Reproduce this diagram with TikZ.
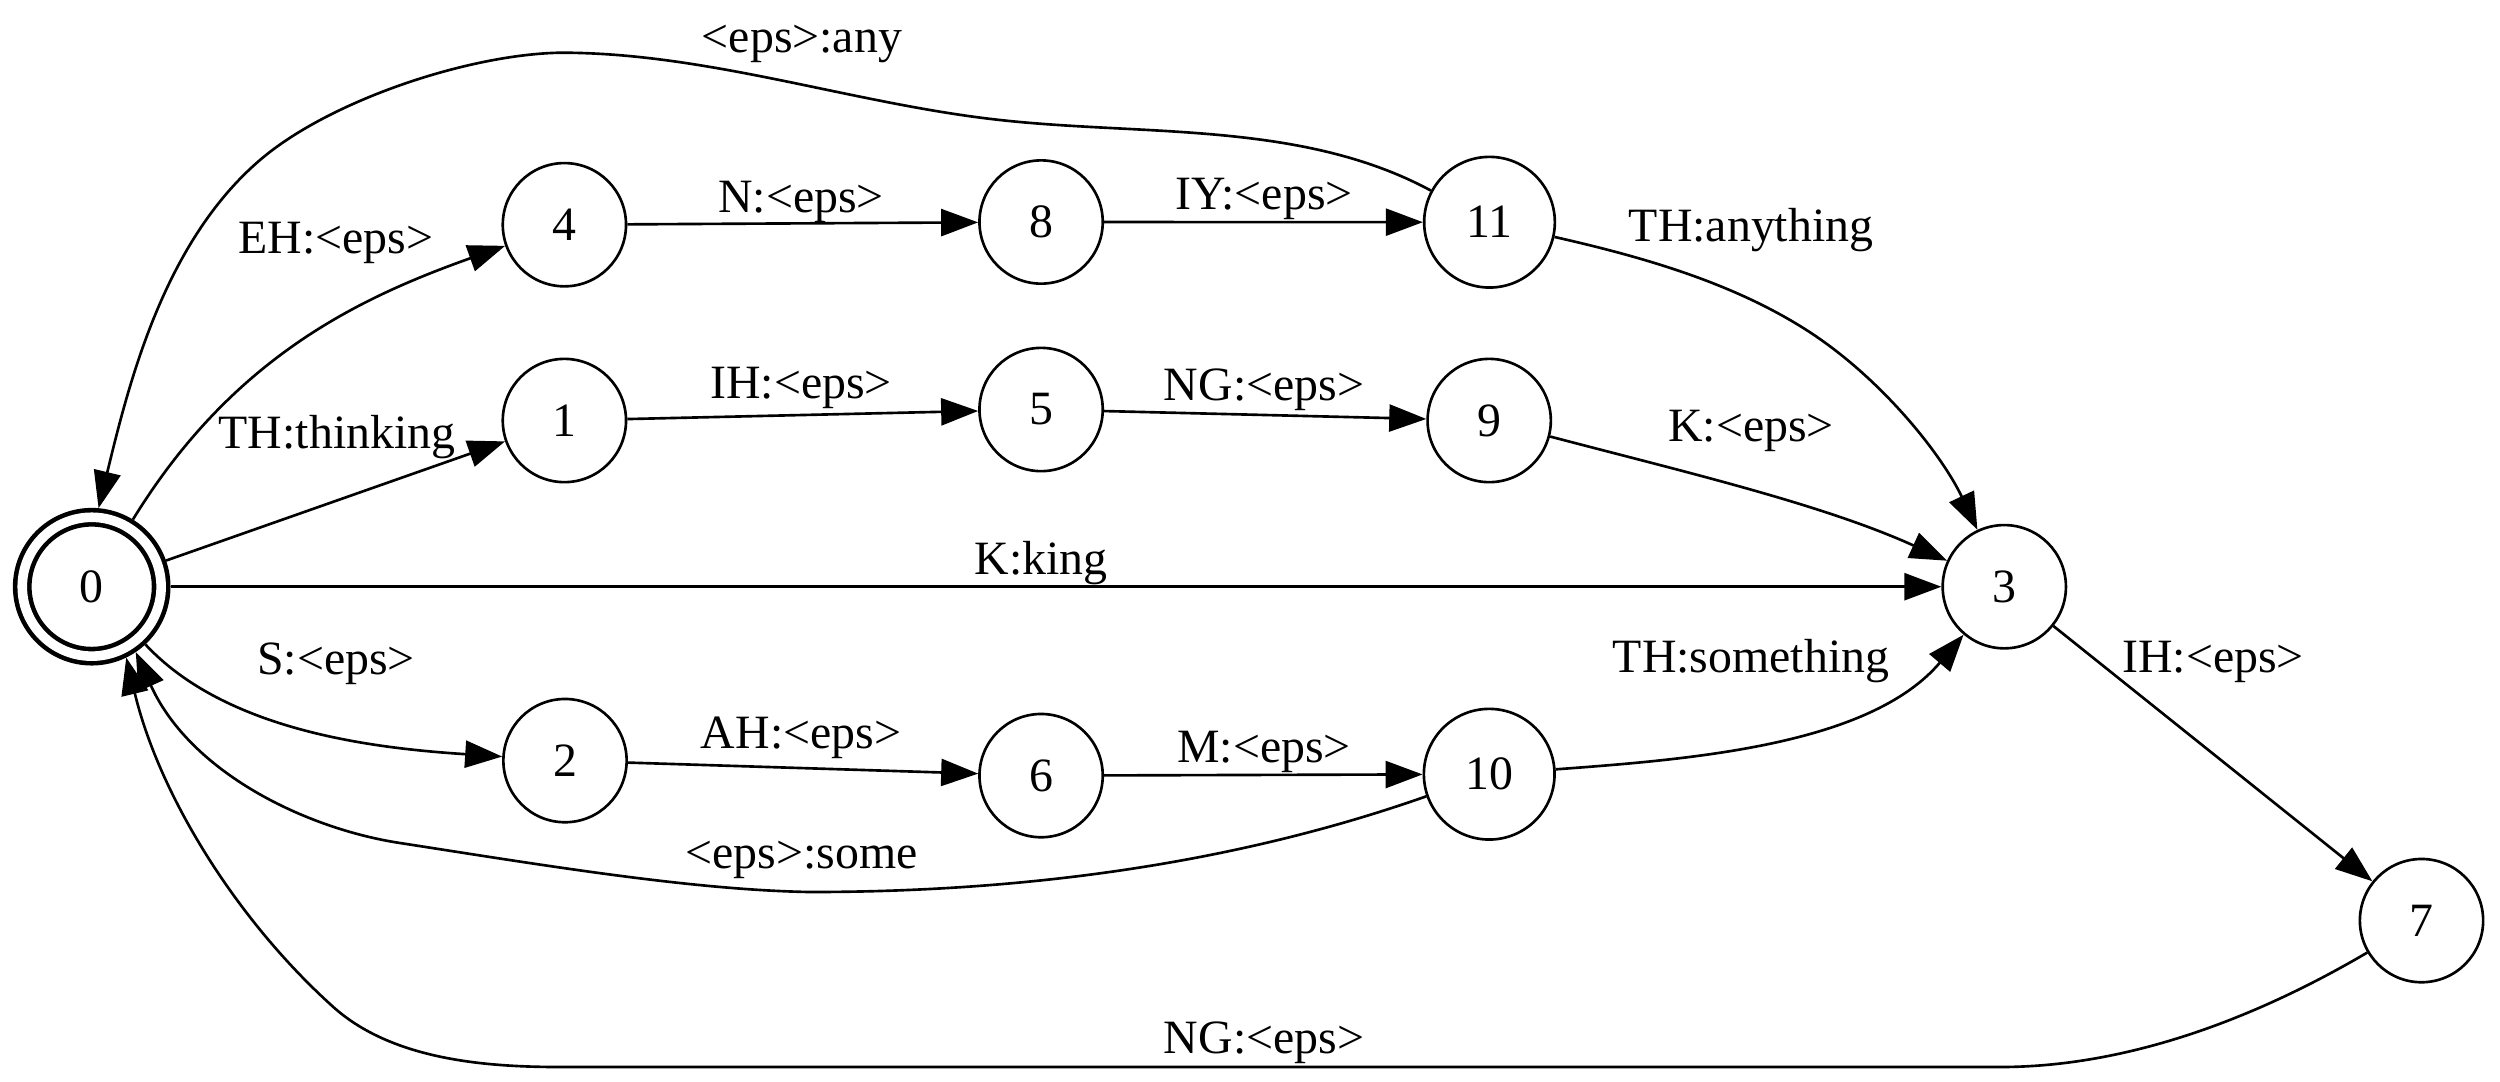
\documentclass[tikz,border=0pt]{standalone}
\usepackage{fontspec}
\setmainfont{Liberation Serif}
\usetikzlibrary{arrows.meta}
\tikzset{
  lblfont/.style={font=\fontsize{13.6pt}{16pt}\selectfont},
  st/.style={circle, draw, line width=0.75pt, minimum size=1.232cm, inner sep=0pt, lblfont},
  sttwo/.style={st, minimum size=1.306cm},
  fin/.style={circle, draw, double, line width=1.3pt, double distance=0.096cm,
    minimum size=1.388cm, inner sep=0pt, outer sep=0.094cm, lblfont},
  edge/.style={-{Triangle[length=0.37cm,width=0.27cm]}, line width=0.75pt},
  lab/.style={anchor=base, inner sep=0pt, lblfont}
}
\begin{document}
\begin{tikzpicture}[x=0.01cm, y=-0.01cm]
\useasboundingbox (0,0) rectangle (2500,1081);
% states
\node[fin] (0) at (91.7,586.7) {0};
\node[st] (4) at (564.4,224.7) {4};
\node[st] (8) at (1041.1,222) {8};
\node[sttwo] (11) at (1489.5,222.2) {11};
\node[st] (1) at (564.4,420.5) {1};
\node[st] (5) at (1041.1,409.5) {5};
\node[st] (9) at (1489.2,420.5) {9};
\node[st] (3) at (2004.3,586.7) {3};
\node[st] (2) at (565,760.6) {2};
\node[st] (6) at (1041.1,775.6) {6};
\node[sttwo] (10) at (1489.2,774.2) {10};
\node[st] (7) at (2421.5,920.6) {7};
% straight transitions
\draw[edge] (0) -- (1);
\draw[edge] (0) -- (3);
\draw[edge] (3) -- (7);
\draw[edge] (4) -- (8);
\draw[edge] (8) -- (11);
\draw[edge] (1) -- (5);
\draw[edge] (5) -- (9);
\draw[edge] (2) -- (6);
\draw[edge] (6) -- (10);
% curved transitions
\draw[edge] (0) .. controls (232.6,357) and (359.3,297.8) .. (4);
\draw[edge] (0) .. controls (225,730) and (370,748) .. (2);
\draw[edge] (11) .. controls (1302,121) and (1145,136) .. (1000,120)
  .. controls (853.6,104) and (709,52.7) .. (561,52.7)
  .. controls (470,54) and (330,100) .. (260,160)
  .. controls (163.5,242.6) and (128.8,383.7) .. (0.85);
\draw[edge] (10) .. controls (1228,866) and (1017,892) .. (810,892)
  .. controls (690,890) and (536,864) .. (400,843)
  .. controls (305,828.5) and (190,772) .. (0.-56);
\draw[edge] (7) .. controls (2256,1018) and (2128,1067) .. (2000,1067)
  -- (560,1067)
  .. controls (482,1067) and (391,1058.9) .. (333,1006.7)
  .. controls (233.4,917) and (158.5,792) .. (0.-64);
\draw[edge] (11) .. controls (1643,257) and (1733,282.7) .. (1808,331)
  .. controls (1882,378.8) and (1942,455) .. (3);
\draw[edge] (9) .. controls (1685,472) and (1823,504.4) .. (3);
\draw[edge] (10) .. controls (1693.5,759.2) and (1870,745) .. (3);
% labels
\node[lab] (l1) at (802,52) {<eps>:any};
\node[lab] (l2) at (336,253) {EH:<eps>};
\node[lab] (l3) at (801,212) {N:<eps>};
\node[lab] (l4) at (1264,209) {IY:<eps>};
\node[lab] (l5) at (1751,241) {TH:anything};
\node[lab] (l6) at (337,448) {TH:thinking};
\node[lab] (l7) at (801,398) {IH:<eps>};
\node[lab] (l8) at (1264,400) {NG:<eps>};
\node[lab] (l9) at (1751,441) {K:<eps>};
\node[lab] (l10) at (1041,574) {K:king};
\node[lab] (l11) at (336,674) {S:<eps>};
\node[lab] (l12) at (1751,672) {TH:something};
\node[lab] (l13) at (2213,672) {IH:<eps>};
\node[lab] (l14) at (801,748) {AH:<eps>};
\node[lab] (l15) at (1264,762) {M:<eps>};
\node[lab] (l16) at (801.5,868) {<eps>:some};
\node[lab] (l17) at (1264,1053) {NG:<eps>};
\end{tikzpicture}
\end{document}
